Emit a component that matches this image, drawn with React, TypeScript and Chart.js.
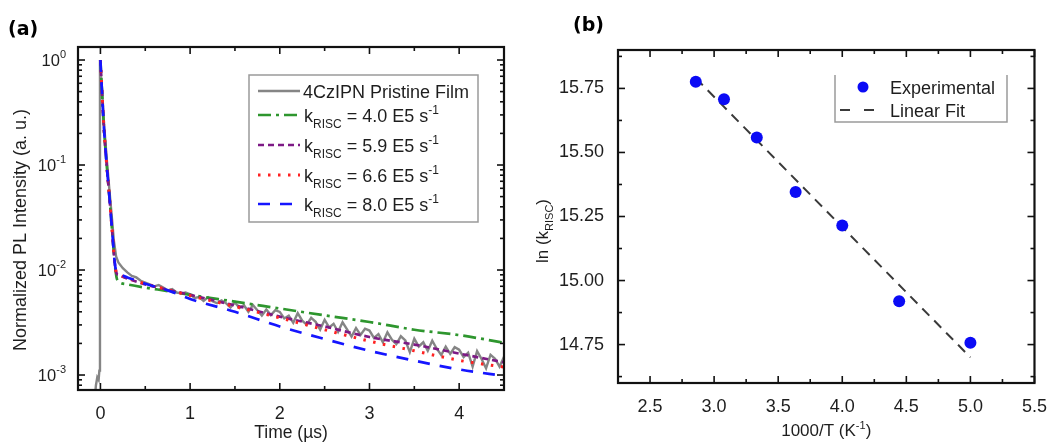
import React, { useEffect, useRef } from "react";
import { Chart, registerables } from "chart.js";

Chart.register(...registerables);

const FONT = '"Liberation Sans", Arial, Helvetica, sans-serif';
const TEXT = "#1e1e1e";

// ---------------- Panel (a): transient PL decay ----------------
const fitTimes = [0, 0.02, 0.04, 0.07, 0.1, 0.13, 0.16, 0.18, 0.2, 0.3, 0.5, 0.75, 1, 1.5, 2, 2.5, 3, 3.5, 4, 4.5];
const fitK40 = [1, 0.45, 0.22, 0.1, 0.05, 0.024, 0.0115, 0.0085, 0.0078, 0.0073, 0.0068, 0.0063, 0.0058, 0.005, 0.0043, 0.0037, 0.0032, 0.0027, 0.0024, 0.00203];
const fitK59 = [1, 0.45, 0.22, 0.1, 0.05, 0.024, 0.0117, 0.0093, 0.009, 0.0083, 0.0073, 0.0065, 0.0058, 0.0046, 0.0036, 0.0029, 0.0023, 0.00195, 0.0016, 0.00132];
const fitK66 = [1, 0.45, 0.22, 0.1, 0.05, 0.024, 0.0117, 0.0093, 0.009, 0.0084, 0.0074, 0.0065, 0.0057, 0.0045, 0.0035, 0.0027, 0.0021, 0.0017, 0.00138, 0.00119];
const fitK80 = [1, 0.45, 0.22, 0.1, 0.05, 0.024, 0.0117, 0.0095, 0.0092, 0.0085, 0.0074, 0.0064, 0.0053, 0.004, 0.0029, 0.0022, 0.0017, 0.00137, 0.00113, 0.00098];

const filmTimes = [
  -0.07, -0.05, -0.035, -0.02, -0.012, -0.005, 0.02, 0.04, 0.07, 0.1, 0.13, 0.15, 0.175,
  0.2, 0.25, 0.3, 0.35, 0.4, 0.45, 0.5, 0.55, 0.6, 0.65, 0.7, 0.75, 0.8, 0.85, 0.9, 0.95,
  1.0, 1.05, 1.1, 1.15, 1.2, 1.25, 1.3, 1.35, 1.4, 1.45, 1.5, 1.55, 1.6, 1.65, 1.7, 1.75, 1.8, 1.85, 1.9, 1.95,
  2.0, 2.05, 2.1, 2.15, 2.2, 2.25, 2.3, 2.35, 2.4, 2.45, 2.5, 2.55, 2.6, 2.65, 2.7, 2.75, 2.8, 2.85, 2.9, 2.95,
  3.0, 3.05, 3.1, 3.15, 3.2, 3.25, 3.3, 3.35, 3.4, 3.45, 3.5, 3.55, 3.6, 3.65, 3.7, 3.75, 3.8, 3.85, 3.9, 3.95,
  4.0, 4.05, 4.1, 4.15, 4.2, 4.25, 4.3, 4.35, 4.4, 4.45, 4.5,
];
const filmValues = [
  0.0005, 0.0008, 0.00095, 0.0009, 0.0011, 1.0, 0.5, 0.25, 0.115, 0.058, 0.03, 0.019, 0.0135,
  0.0118, 0.0104, 0.0095, 0.0088, 0.0085, 0.0079, 0.0076, 0.0073, 0.007, 0.0072, 0.0068, 0.0064, 0.0066, 0.0061, 0.006, 0.0061,
  0.00587, 0.00541, 0.00552, 0.00508, 0.0055, 0.00504, 0.00483, 0.00513, 0.00483, 0.0044, 0.00491, 0.00435, 0.00462, 0.004, 0.00464, 0.00413, 0.00368, 0.0042, 0.00372, 0.00415,
  0.00399, 0.00346, 0.00368, 0.00314, 0.00388, 0.00329, 0.00302, 0.00351, 0.00321, 0.00271, 0.00336, 0.00284, 0.00308, 0.00258, 0.00318, 0.00272, 0.00232, 0.0028, 0.00241, 0.00276,
  0.00265, 0.00226, 0.00245, 0.00205, 0.00255, 0.00217, 0.00197, 0.00234, 0.00214, 0.00165, 0.00222, 0.00187, 0.00205, 0.0017, 0.00212, 0.00178, 0.00155, 0.00186, 0.00159, 0.00184,
  0.00174, 0.00148, 0.00163, 0.0012, 0.00169, 0.00142, 0.00116, 0.00156, 0.00143, 0.0012, 0.00149,
];

const timeTicks = [0, 1, 2, 3, 4];
const decayTicks = [0.001, 0.01, 0.1, 1];
const decayTickExponents = ["-3", "-2", "-1", "0"];
const filmName = "4CzIPN Pristine Film";
const kRiscLabels = ["4.0", "5.9", "6.6", "8.0"];

// ---------------- Panel (b): Arrhenius plot ----------------
const inverseT = [2.857, 3.077, 3.333, 3.636, 4.0, 4.444, 5.0];
const lnKRisc = [15.776, 15.708, 15.558, 15.346, 15.215, 14.919, 14.757];
const fitInverseT = [2.857, 5.0];
const fitLnK = [15.79, 14.7];
const invTTicks = [2.5, 3.0, 3.5, 4.0, 4.5, 5.0, 5.5];
const lnKTicks = [14.75, 15.0, 15.25, 15.5, 15.75];
const legendB = ["Experimental", "Linear Fit"];

// ---------------- drawing helpers ----------------
type Part = { t: string; size: number; dy?: number; bold?: boolean; family?: string };
const fontOf = (p: Part) => `${p.bold ? "bold " : ""}${p.size}px ${p.family ?? FONT}`;

function drawRich(ctx: CanvasRenderingContext2D, parts: Part[], x: number, y: number, align: "left" | "center" | "right" = "left") {
  ctx.textAlign = "left";
  ctx.textBaseline = "alphabetic";
  let w = 0;
  for (const p of parts) {
    ctx.font = fontOf(p);
    w += ctx.measureText(p.t).width;
  }
  let cx = align === "left" ? x : align === "center" ? x - w / 2 : x - w;
  for (const p of parts) {
    ctx.font = fontOf(p);
    ctx.fillText(p.t, cx, y + (p.dy ?? 0));
    cx += ctx.measureText(p.t).width;
  }
}

function drawRichVertical(ctx: CanvasRenderingContext2D, parts: Part[], x: number, y: number) {
  ctx.save();
  ctx.translate(x, y);
  ctx.rotate(-Math.PI / 2);
  drawRich(ctx, parts, 0, 0, "center");
  ctx.restore();
}

function seg(ctx: CanvasRenderingContext2D, x1: number, y1: number, x2: number, y2: number) {
  ctx.beginPath();
  ctx.moveTo(x1, y1);
  ctx.lineTo(x2, y2);
  ctx.stroke();
}

function drawFrameTicks(chart: any, xMajor: number[], xMinor: number[], yMajor: number[], yMinor: number[]) {
  const { ctx, chartArea, scales } = chart;
  const { left, right, top, bottom } = chartArea;
  const xs = scales.x;
  const ys = scales.y;
  ctx.save();
  ctx.setLineDash([]);
  ctx.strokeStyle = "#111";
  ctx.lineWidth = 1.6;
  const xt = (v: number, len: number) => {
    const p = xs.getPixelForValue(v);
    if (p < left - 0.5 || p > right + 0.5) return;
    seg(ctx, p, bottom, p, bottom - len);
    seg(ctx, p, top, p, top + len);
  };
  const yt = (v: number, len: number) => {
    const p = ys.getPixelForValue(v);
    if (p < top - 0.5 || p > bottom + 0.5) return;
    seg(ctx, left, p, left + len, p);
    seg(ctx, right, p, right - len, p);
  };
  xMajor.forEach((v) => xt(v, 7));
  xMinor.forEach((v) => xt(v, 4));
  yMajor.forEach((v) => yt(v, 7));
  yMinor.forEach((v) => yt(v, 4));
  ctx.lineWidth = 2.2;
  ctx.strokeRect(left, top, right - left, bottom - top);
  ctx.restore();
}

const styleFilm = { color: "#858585", dash: [] as number[], width: 2.4 };
const styleK = [
  { color: "#2e962e", dash: [13, 5, 3, 5], width: 2.7 },
  { color: "#7d1a85", dash: [6, 4], width: 2.7 },
  { color: "#ff2222", dash: [2.5, 7.5], width: 3 },
  { color: "#1515ff", dash: [12, 10], width: 2.7 },
];

function configA(): any {
  const fits = [fitK40, fitK59, fitK66, fitK80];
  const fitSets = fits.map((vals, i) => ({
    label: "k" + kRiscLabels[i],
    data: fitTimes.map((t, j) => ({ x: t, y: vals[j] })),
    borderColor: styleK[i].color,
    borderDash: styleK[i].dash,
    borderWidth: styleK[i].width,
    pointRadius: 0,
    fill: false,
    cubicInterpolationMode: "monotone",
  }));
  // index 0 is drawn on top: blue, red, purple, green, film
  const datasets = [fitSets[3], fitSets[2], fitSets[1], fitSets[0], {
    label: filmName,
    data: filmTimes.map((t, j) => ({ x: t, y: filmValues[j] })),
    borderColor: styleFilm.color,
    borderWidth: styleFilm.width,
    pointRadius: 0,
    fill: false,
    tension: 0,
  }];

  const xMinor = timeTicks.map((v) => v + 0.5);
  const yMinor: number[] = [];
  [0.0001, 0.001, 0.01, 0.1, 1].forEach((d) => {
    for (let m = 2; m <= 9; m++) yMinor.push(d * m);
  });

  const plugin = {
    id: "panelA",
    afterDraw(chart: any) {
      const { ctx, chartArea, scales } = chart;
      drawFrameTicks(chart, timeTicks, xMinor, decayTicks, yMinor);
      ctx.save();
      ctx.fillStyle = TEXT;
      decayTicks.forEach((v, i) => {
        const p = scales.y.getPixelForValue(v);
        drawRich(ctx, [{ t: "10", size: 16.5 }, { t: decayTickExponents[i], size: 11, dy: -8 }], chartArea.left - 12, p + 6, "right");
      });
      drawRichVertical(ctx, [{ t: "Normalized PL Intensity (a. u.)", size: 18 }], 26, 230);
      drawRich(ctx, [{ t: "Time (\u00b5s)", size: 17.5 }], (chartArea.left + chartArea.right) / 2, 438, "center");
      ctx.fillStyle = "#000";
      drawRich(ctx, [{ t: "(a)", size: 19, bold: true, family: '"DejaVu Sans", sans-serif' }], 8, 35, "left");
      // legend
      const bx = 249, by = 75, bw = 229, bh = 147;
      ctx.strokeStyle = "#9a9a9a";
      ctx.lineWidth = 1.5;
      ctx.setLineDash([]);
      ctx.strokeRect(bx, by, bw, bh);
      const rows = [91, 115, 145, 175, 204];
      const styles = [styleFilm, ...styleK];
      rows.forEach((ry, i) => {
        const st = styles[i];
        ctx.strokeStyle = st.color;
        ctx.lineWidth = st.width;
        ctx.setLineDash(st.dash);
        seg(ctx, 258, ry, 300, ry);
        ctx.setLineDash([]);
        ctx.fillStyle = TEXT;
        if (i === 0) {
          drawRich(ctx, [{ t: filmName, size: 18 }], 303, ry + 6.5);
        } else {
          drawRich(ctx, [
            { t: "k", size: 18 },
            { t: "RISC", size: 12, dy: 6 },
            { t: " = " + kRiscLabels[i - 1] + " E5 s", size: 18 },
            { t: "-1", size: 12, dy: -8 },
          ], 304, ry + 6.5);
        }
      });
      ctx.restore();
    },
  };

  return {
    type: "line",
    data: { datasets },
    plugins: [plugin],
    options: {
      animation: false,
      responsive: false,
      maintainAspectRatio: false,
      layout: { padding: { left: 0, right: 26, top: 47, bottom: 0 } },
      plugins: { legend: { display: false }, tooltip: { enabled: false }, title: { display: false } },
      scales: {
        x: {
          type: "linear",
          min: -0.25,
          max: 4.5,
          grid: { display: false },
          border: { display: false },
          afterBuildTicks: (s: any) => {
            s.ticks = timeTicks.map((v) => ({ value: v }));
          },
          ticks: {
            font: { family: FONT, size: 18 },
            color: TEXT,
            padding: 5,
            maxRotation: 0,
            autoSkip: false,
            callback: (v: any) => String(v),
          },
          afterFit: (s: any) => {
            s.height = 52;
          },
        },
        y: {
          type: "logarithmic",
          min: 0.00072,
          max: 1.33,
          grid: { display: false },
          border: { display: false },
          afterBuildTicks: (s: any) => {
            s.ticks = decayTicks.map((v) => ({ value: v }));
          },
          ticks: { display: false },
          afterFit: (s: any) => {
            s.width = 78;
          },
        },
      },
    },
  };
}

function configB(): any {
  const xMinor = invTTicks.map((v) => v - 0.25);
  const yMinor = [...lnKTicks.map((v) => v - 0.125), 15.875];

  const plugin = {
    id: "panelB",
    afterDraw(chart: any) {
      const { ctx, chartArea } = chart;
      drawFrameTicks(chart, invTTicks, xMinor, lnKTicks, yMinor);
      ctx.save();
      ctx.fillStyle = TEXT;
      drawRichVertical(ctx, [
        { t: "ln (k", size: 17 },
        { t: "RISC", size: 11, dy: 5 },
        { t: ")", size: 17 },
      ], 548 - 530, 231);
      drawRich(ctx, [
        { t: "1000/T (K", size: 17 },
        { t: "-1", size: 11, dy: -7 },
        { t: ")", size: 17 },
      ], (chartArea.left + chartArea.right) / 2, 436, "center");
      ctx.fillStyle = "#000";
      drawRich(ctx, [{ t: "(b)", size: 19, bold: true, family: '"DejaVu Sans", sans-serif' }], 43, 31, "left");
      const l = 835 - 530, r = 1007 - 530, t = 75, b = 122;
      ctx.strokeStyle = "#9a9a9a";
      ctx.lineWidth = 1.5;
      ctx.beginPath();
      ctx.moveTo(l, t);
      ctx.lineTo(l, b);
      ctx.lineTo(r, b);
      ctx.lineTo(r, t);
      ctx.stroke();
      ctx.fillStyle = "#0b0bf5";
      ctx.beginPath();
      ctx.arc(863 - 530, 87, 5.5, 0, Math.PI * 2);
      ctx.fill();
      ctx.strokeStyle = "#3a3a3a";
      ctx.lineWidth = 2;
      ctx.setLineDash([10, 14]);
      seg(ctx, 840 - 530, 110, 878 - 530, 110);
      ctx.setLineDash([]);
      ctx.fillStyle = TEXT;
      drawRich(ctx, [{ t: legendB[0], size: 18 }], 890 - 530, 93.5);
      drawRich(ctx, [{ t: legendB[1], size: 18 }], 890 - 530, 116.5);
      ctx.restore();
    },
  };

  return {
    type: "scatter",
    data: {
      datasets: [
        {
          label: legendB[0],
          data: inverseT.map((x, i) => ({ x, y: lnKRisc[i] })),
          pointRadius: 6,
          pointBackgroundColor: "#0b0bf5",
          pointBorderWidth: 0,
          showLine: false,
        },
        {
          label: legendB[1],
          data: fitInverseT.map((x, i) => ({ x, y: fitLnK[i] })),
          showLine: true,
          pointRadius: 0,
          borderColor: "#3a3a3a",
          borderWidth: 2,
          borderDash: [10, 7],
          fill: false,
        },
      ],
    },
    plugins: [plugin],
    options: {
      animation: false,
      responsive: false,
      maintainAspectRatio: false,
      layout: { padding: { left: 0, right: 12, top: 50, bottom: 0 } },
      plugins: { legend: { display: false }, tooltip: { enabled: false }, title: { display: false } },
      scales: {
        x: {
          type: "linear",
          min: 2.25,
          max: 5.5,
          grid: { display: false },
          border: { display: false },
          afterBuildTicks: (s: any) => {
            s.ticks = invTTicks.map((v) => ({ value: v }));
          },
          ticks: {
            font: { family: FONT, size: 18 },
            color: TEXT,
            padding: 5,
            maxRotation: 0,
            autoSkip: false,
            callback: (v: any) => Number(v).toFixed(1),
          },
          afterFit: (s: any) => {
            s.height = 59;
          },
        },
        y: {
          type: "linear",
          min: 14.6,
          max: 15.9,
          grid: { display: false },
          border: { display: false },
          afterBuildTicks: (s: any) => {
            s.ticks = lnKTicks.map((v) => ({ value: v }));
          },
          ticks: {
            font: { family: FONT, size: 18 },
            color: TEXT,
            padding: 6,
            autoSkip: false,
            callback: (v: any) => Number(v).toFixed(2),
          },
          afterFit: (s: any) => {
            s.width = 88;
          },
        },
      },
    },
  };
}

export default function App() {
  const refA = useRef<HTMLCanvasElement>(null);
  const refB = useRef<HTMLCanvasElement>(null);

  useEffect(() => {
    const a = new Chart(refA.current as HTMLCanvasElement, configA());
    const b = new Chart(refB.current as HTMLCanvasElement, configB());
    return () => {
      a.destroy();
      b.destroy();
    };
  }, []);

  return (
    <div style={{ position: "absolute", left: 0, top: 0, width: 1052, height: 442, background: "#fff", overflow: "hidden" }}>
      <canvas ref={refA} width={530} height={442} style={{ position: "absolute", left: 0, top: 0, width: 530, height: 442 }} />
      <canvas ref={refB} width={522} height={442} style={{ position: "absolute", left: 530, top: 0, width: 522, height: 442 }} />
    </div>
  );
}
